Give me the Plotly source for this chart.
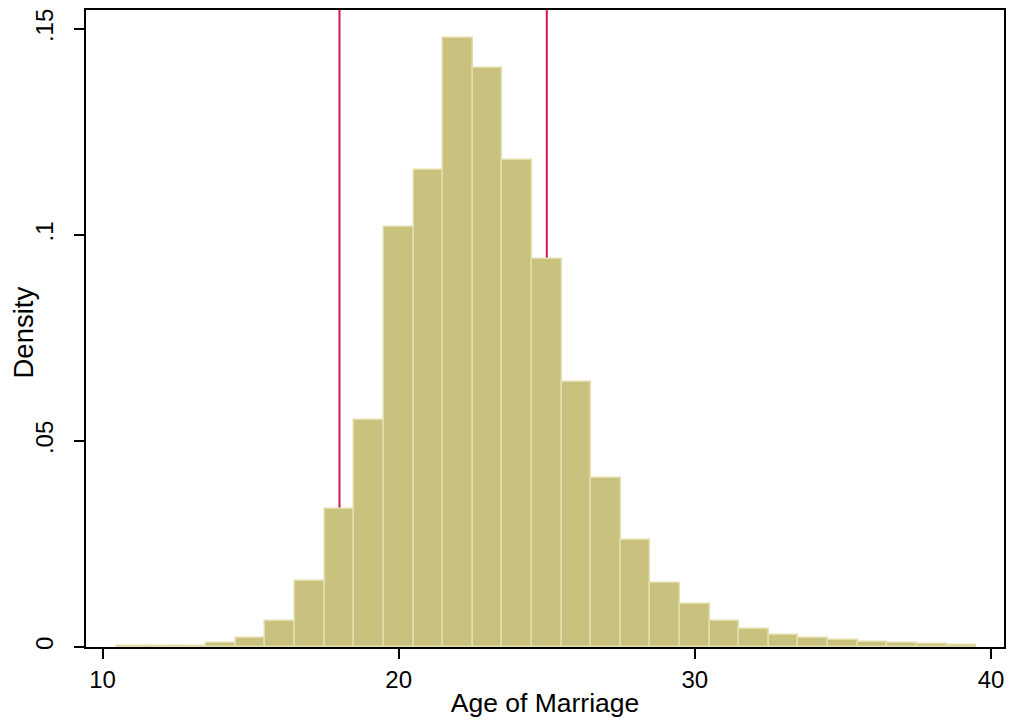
import plotly.graph_objects as go

# Bin centers (age, years) and density heights
ages = [11, 12, 13, 14, 15, 16, 17, 18, 19, 20, 21, 22, 23, 24, 25, 26, 27, 28, 29,
        30, 31, 32, 33, 34, 35, 36, 37, 38, 39]
density = [0.0002, 0.0002, 0.0002, 0.0009, 0.0023, 0.0063, 0.0160, 0.0336, 0.0550,
           0.1019, 0.1157, 0.1478, 0.1406, 0.1183, 0.0941, 0.0644, 0.0411, 0.0259,
           0.0156, 0.0104, 0.0063, 0.0043, 0.0028, 0.0021, 0.0016, 0.0012, 0.0010,
           0.0008, 0.0006]
ref_lines = [18, 25]
x_ticks = [10, 20, 30, 40]
y_ticks = [0, 0.05, 0.1, 0.15]
y_ticklabels = ["0", ".05", ".1", ".15"]

FONT = "Liberation Sans, Arial, sans-serif"

fig = go.Figure()

fig.add_trace(go.Bar(x=ages, y=density, width=1,
                     marker=dict(color="#C9C27F",
                                 line=dict(color="#E2DEAC", width=1.5)),
                     showlegend=False))

for xv in ref_lines:
    fig.add_shape(type="line", xref="x", yref="paper", x0=xv, x1=xv, y0=0, y1=1,
                  line=dict(color="#D31547", width=2), layer="below")

fig.add_annotation(text="Density", xref="paper", yref="paper", x=0, y=0.5,
                   xanchor="center", yanchor="middle", xshift=-63, yshift=-4,
                   textangle=-90, showarrow=False, font=dict(size=27.5))

fig.update_layout(
    width=1014, height=721,
    margin=dict(l=86, r=8, t=8, b=74),
    paper_bgcolor="white", plot_bgcolor="white",
    bargap=0,
    font=dict(family=FONT, size=24, color="black"),
    xaxis=dict(range=[9.44, 40.44], tickvals=x_ticks, ticks="outside", ticklen=10,
               tickwidth=1.5, tickcolor="black", showgrid=False, zeroline=False,
               showline=True, linecolor="black", linewidth=1.5, mirror=True,
               title=dict(text="Age of Marriage", standoff=2, font=dict(size=26.5)),
               tickfont=dict(size=24)),
    yaxis=dict(range=[0, 0.1546], tickvals=y_ticks, ticktext=y_ticklabels,
               ticks="outside", ticklen=10, tickwidth=1.5, tickcolor="black",
               tickangle=-90, ticklabelstandoff=12, showgrid=False, zeroline=False,
               showline=True, linecolor="black", linewidth=1.5, mirror=True,
               tickfont=dict(size=24)),
)

fig.write_html("out.html")
